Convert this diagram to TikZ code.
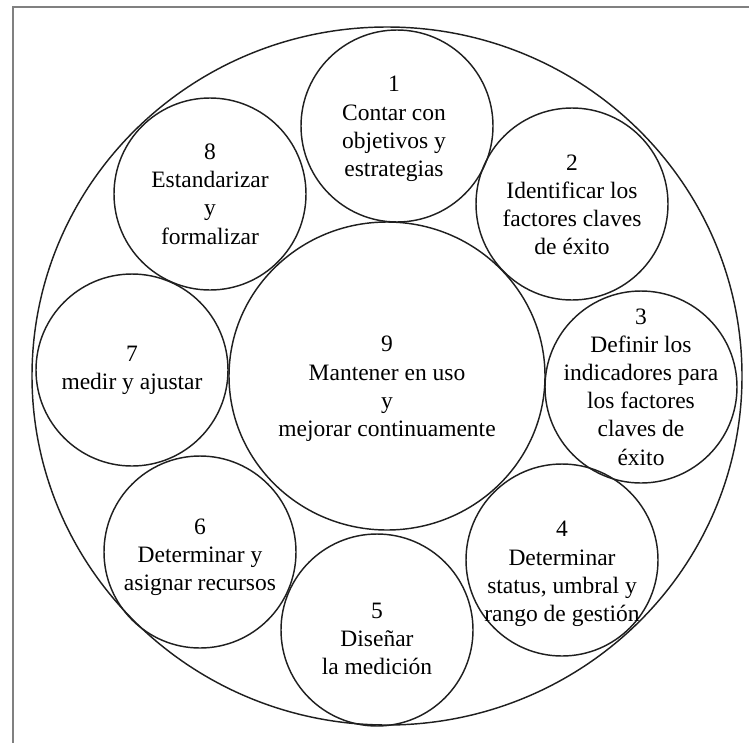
\documentclass[tikz,border=0pt]{standalone}
\usepackage{fontspec}
\setmainfont{Liberation Serif}
\usetikzlibrary{shapes.geometric}
\begin{document}
\begin{tikzpicture}[x=1pt,y=-1pt,
  ring/.style={draw=black!88,line width=1.45pt,ellipse,inner sep=0pt,
    minimum width=#1,minimum height=#1},
  smallring/.style={ring=192},
  stepnum/.style={align=center,inner sep=0pt,text=black,
    font=\fontsize{23.5}{28.2}\selectfont},
  frameline/.style={draw=black!50,line width=2pt}]
  % page area and outer frame
  \useasboundingbox (0,0) rectangle (749,742);
  \draw[frameline] (13,780) -- (13,7) -- (790,7);

  % enclosing ring and central step
  \node[ring, minimum width=710, minimum height=698] (outer) at (387,376) {};
  \node[ring, minimum width=316, minimum height=308] (c9) at (387,376) {};

  % the eight surrounding steps
  \node[smallring] (c1) at (397,126) {};
  \node[smallring] (c2) at (572,204) {};
  \node[smallring] (c3) at (641,387) {};
  \node[smallring] (c4) at (562,560) {};
  \node[smallring] (c5) at (377,630) {};
  \node[smallring] (c6) at (200,552) {};
  \node[smallring] (c7) at (132,370) {};
  \node[smallring] (c8) at (210,194) {};

  % labels (canvas shifts: negative yshift moves a label down)
  \node[stepnum] (t1) at ([xshift=-3,yshift=-3]c1) {1\\Contar con\\objetivos y\\estrategias};
  \node[stepnum] (t2) at ([yshift=-1]c2) {2\\Identificar los\\factores claves\\de éxito};
  \node[stepnum] (t3) at (c3) {3\\Definir los\\indicadores para\\los factores\\claves de\\éxito};
  \node[stepnum] (t4) at ([yshift=-14]c4) {4\\Determinar\\status, umbral y\\rango de gestión};
  \node[stepnum] (t5) at ([yshift=-9]c5) {5\\Diseñar\\la medición};
  \node[stepnum] (t6) at ([yshift=-5]c6) {6\\Determinar y\\asignar recursos};
  \node[stepnum] (t7) at (c7) {7\\medir y ajustar};
  \node[stepnum] (t8) at (c8) {8\\Estandarizar\\y\\formalizar};
  \node[stepnum] (t9) at ([yshift=-13]c9) {9\\Mantener en uso\\y\\mejorar continuamente};
\end{tikzpicture}
\end{document}
